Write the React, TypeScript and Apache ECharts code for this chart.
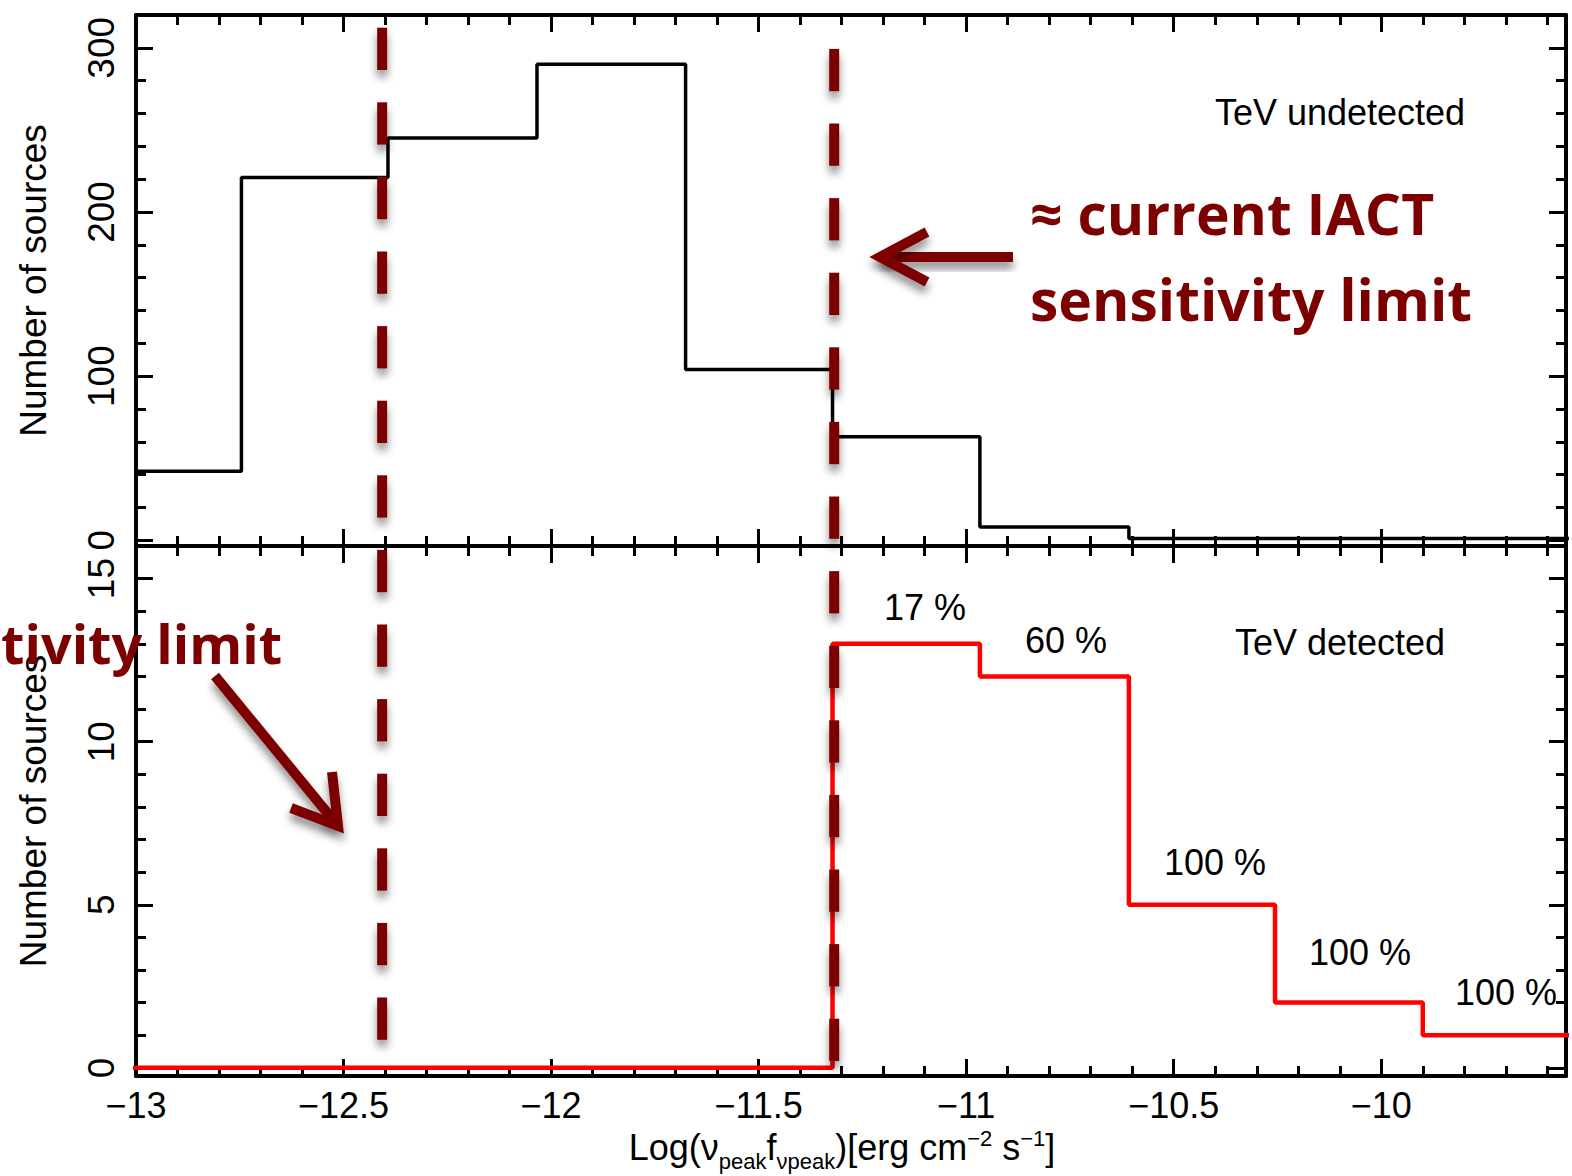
import React, { useEffect, useRef } from 'react';
import * as echarts from 'echarts';

// ---------- data ----------
const X_MIN = -13;
const X_MAX = -9.555;
const X_TICK_STEP = 0.5;
const TOP_Y_MIN = -3.5;
const TOP_Y_MAX = 320;
const TOP_Y_STEP = 100;
const BOT_Y_MIN = -0.25;
const BOT_Y_MAX = 16;
const BOT_Y_STEP = 5;

// histogram bins (left edges) and counts
const binLeftEdges = [-13.1, -12.746, -12.393, -12.034, -11.676, -11.322, -10.967, -10.608, -10.256, -9.9];
const binLastRightEdge = -9.544;
const undetectedCounts = [42, 221, 245, 290, 104, 63, 8, 1, 1, 1];
const detectedCounts = [0, 0, 0, 0, 0, 13, 12, 5, 2, 1];
const detectedFractions = ['17 %', '60 %', '100 %', '100 %', '100 %'];
const sensitivityLimits = [-12.407, -11.318];

// ---------- layout / styles ----------
const FONT = "'Liberation Sans', Arial, Helvetica, sans-serif";
const ANNOT_FONT = "'Open Sans', 'Noto Sans', sans-serif";
const MAROON = '#7d0000';
const fractionLabelPos = [
  [925, 607],
  [1066, 640],
  [1215, 862],
  [1360, 952],
  [1506, 992],
];
const dashTop = [27.7, 48.9];
const DASH = 42.3;
const GAP = 32.3;
const DASH_COUNT = 14;
const DASH_WIDTH = 10;

function stepData(edges: number[], counts: number[], end: number) {
  const d = edges.map((e, i) => [e, counts[i]]);
  d.push([end, counts[counts.length - 1]]);
  return d;
}

const fmtX = (v: number) => String(v).replace('-', '\u2212');

export default function App() {
  const ref = useRef<HTMLDivElement>(null);
  useEffect(() => {
    if (!ref.current) return;
    const chart = echarts.init(ref.current, null, { renderer: 'svg' });

    const frameLine = { show: true, onZero: false, lineStyle: { color: '#000', width: 4 } };
    const tick = { show: true, inside: true, length: 17, lineStyle: { color: '#000', width: 3 } };
    const minor = { show: true, splitNumber: 5, length: 10, lineStyle: { color: '#000', width: 3 } };

    const xAxisBase = (gridIndex: number, position: string, labels: boolean) => ({
      type: 'value',
      gridIndex,
      position,
      min: X_MIN,
      max: X_MAX,
      interval: X_TICK_STEP,
      axisLine: frameLine,
      axisTick: tick,
      minorTick: minor,
      splitLine: { show: false },
      axisLabel: {
        show: labels,
        showMaxLabel: false,
        fontSize: 36,
        fontFamily: FONT,
        color: '#000',
        margin: 11,
        formatter: fmtX,
      },
    });

    const yAxisBase = (gridIndex: number, position: string, labels: boolean, min: number, max: number, step: number) => ({
      type: 'value',
      gridIndex,
      position,
      min,
      max,
      minInterval: step,
      maxInterval: step,
      axisLine: frameLine,
      axisTick: tick,
      minorTick: minor,
      splitLine: { show: false },
      axisLabel: {
        show: labels,
        rotate: 90,
        showMinLabel: false,
        showMaxLabel: false,
        fontSize: 37,
        fontFamily: FONT,
        color: '#000',
        margin: 16,
      },
      name: labels ? 'Number of sources' : '',
      nameLocation: 'middle',
      nameGap: 84,
      nameTextStyle: { fontSize: 37, fontFamily: FONT, color: '#000' },
    });

    const bottomX: any = xAxisBase(1, 'bottom', true);
    bottomX.name =
      '{a|Log(\u03bd}{s|peak}{a|f}{s|\u03bdpeak}{a|)[erg cm}{p|\u22122}{a| s}{p|\u22121}{a|]}';
    bottomX.nameLocation = 'middle';
    bottomX.nameGap = 46;
    bottomX.nameTextStyle = {
      padding: [0, 18, 0, 0],
      rich: {
        a: { fontSize: 36, lineHeight: 50, verticalAlign: 'middle', fontFamily: FONT, color: '#000' },
        s: { fontSize: 22, lineHeight: 22, verticalAlign: 'bottom', fontFamily: FONT, color: '#000' },
        p: { fontSize: 22, lineHeight: 22, padding: [0, 0, 18, 0], verticalAlign: 'middle', fontFamily: FONT, color: '#000' },
      },
    };

    const option: any = {
      animation: false,
      backgroundColor: '#fff',
      textStyle: { fontFamily: FONT },
      grid: [
        { left: 136, top: 15, width: 1430, height: 531 },
        { left: 136, top: 546, width: 1430, height: 530 },
      ],
      xAxis: [
        xAxisBase(0, 'bottom', false),
        xAxisBase(0, 'top', false),
        bottomX,
        xAxisBase(1, 'top', false),
      ],
      yAxis: [
        yAxisBase(0, 'left', true, TOP_Y_MIN, TOP_Y_MAX, TOP_Y_STEP),
        yAxisBase(0, 'right', false, TOP_Y_MIN, TOP_Y_MAX, TOP_Y_STEP),
        yAxisBase(1, 'left', true, BOT_Y_MIN, BOT_Y_MAX, BOT_Y_STEP),
        yAxisBase(1, 'right', false, BOT_Y_MIN, BOT_Y_MAX, BOT_Y_STEP),
      ],
      series: [
        {
          name: 'TeV undetected',
          type: 'line',
          xAxisIndex: 0,
          yAxisIndex: 0,
          step: 'end',
          symbol: 'none',
          clip: true,
          lineStyle: { color: '#000', width: 3.5 },
          data: stepData(binLeftEdges, undetectedCounts, binLastRightEdge),
          z: 3,
        },
        {
          name: 'TeV detected',
          type: 'line',
          xAxisIndex: 2,
          yAxisIndex: 2,
          step: 'end',
          symbol: 'none',
          clip: true,
          lineStyle: { color: '#ff0000', width: 4.5 },
          data: stepData(binLeftEdges, detectedCounts, binLastRightEdge),
          z: 3,
        },
      ],
    };
    chart.setOption(option);

    const shadow = { shadowBlur: 8, shadowOffsetY: 7, shadowColor: 'rgba(0,0,0,0.45)' };
    const graphics: any[] = [];
    sensitivityLimits.forEach((v, i) => {
      const px = chart.convertToPixel({ xAxisIndex: 0 }, v) as number;
      for (let k = 0; k < DASH_COUNT; k++) {
        graphics.push({
          type: 'rect',
          z: 50,
          shape: { x: px - DASH_WIDTH / 2, y: dashTop[i] + k * (DASH + GAP), width: DASH_WIDTH, height: DASH },
          style: { fill: MAROON, ...shadow },
        });
      }
    });

    // arrows
    const arrowStyle = { stroke: MAROON, lineWidth: 10, fill: null, lineCap: 'butt', lineJoin: 'miter', ...shadow };
    graphics.push(
      { type: 'rect', z: 50, shape: { x: 882, y: 252, width: 131, height: 10 }, style: { fill: MAROON, ...shadow } },
      { type: 'polyline', z: 50, shape: { points: [[927, 232], [880, 257], [927, 282]] }, style: arrowStyle },
      { type: 'polyline', z: 50, shape: { points: [[215, 676], [334, 821]] }, style: arrowStyle },
      { type: 'polyline', z: 50, shape: { points: [[291, 808], [338, 826], [332, 772]] }, style: arrowStyle },
    );

    // annotation texts
    const bigText = { fontWeight: 'bold', fontFamily: ANNOT_FONT, fill: MAROON, verticalAlign: 'middle' };
    graphics.push(
      { type: 'text', z: 60, x: 1030, y: 213, style: { ...bigText, fontSize: 57, text: '\u2248 current IACT', align: 'left' } },
      { type: 'text', z: 60, x: 1030, y: 299, style: { ...bigText, fontSize: 57, text: 'sensitivity limit', align: 'left' } },
      { type: 'text', z: 60, x: 1, y: 643, style: { ...bigText, fontSize: 54, text: 'tivity limit', align: 'left' } },
    );

    const smallText = { fontSize: 36, fontFamily: FONT, fill: '#000', align: 'center', verticalAlign: 'middle' };
    graphics.push(
      { type: 'text', z: 40, x: 1340, y: 112, style: { ...smallText, text: 'TeV undetected' } },
      { type: 'text', z: 40, x: 1340, y: 642, style: { ...smallText, text: 'TeV detected' } },
    );
    detectedFractions.forEach((t, i) => {
      graphics.push({
        type: 'text',
        z: 40,
        x: fractionLabelPos[i][0],
        y: fractionLabelPos[i][1],
        style: { ...smallText, text: t },
      });
    });

    chart.setOption({ graphic: graphics });

    return () => chart.dispose();
  }, []);

  return (
    <div
      ref={ref}
      style={{ position: 'absolute', left: 0, top: 0, width: 1572, height: 1176, background: '#fff' }}
    />
  );
}
